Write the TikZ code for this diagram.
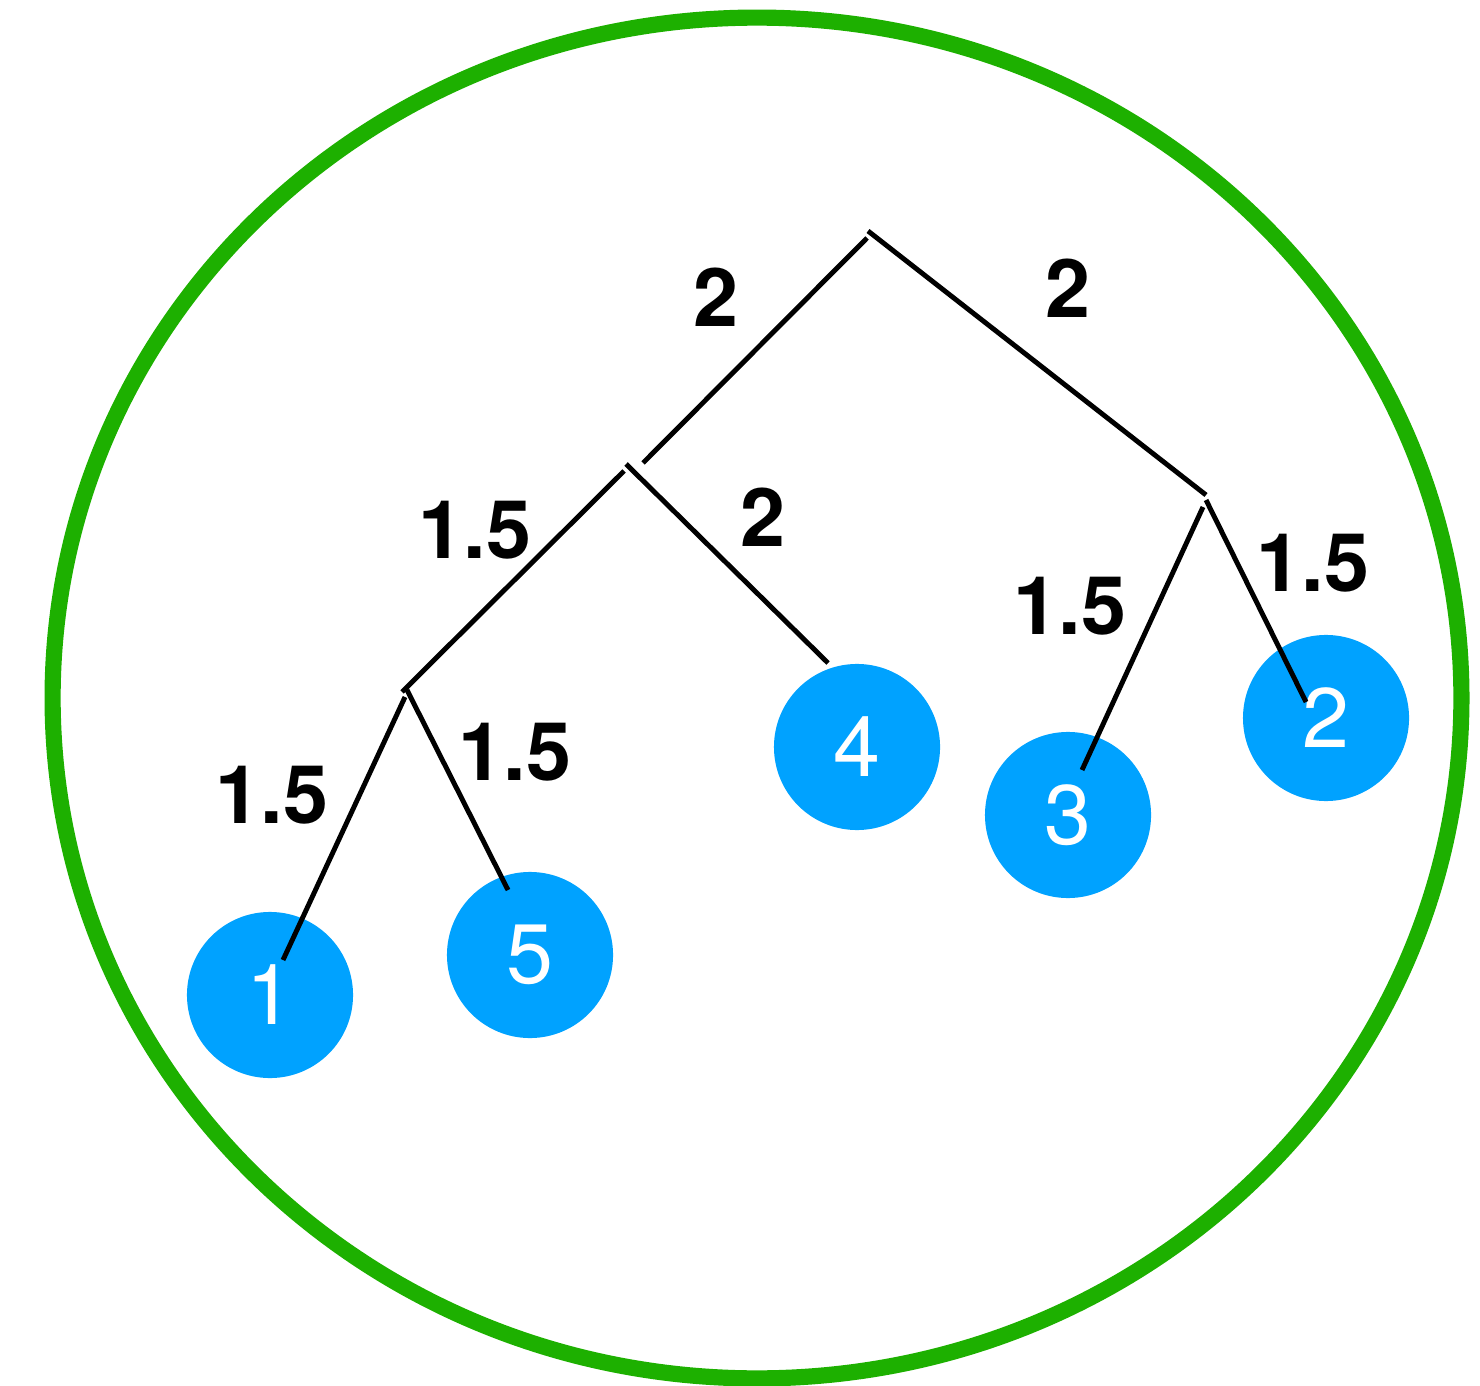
\documentclass[tikz,border=0pt]{standalone}
\usepackage{fontspec}
\setmainfont{TeX Gyre Heros}
\usepackage{xcolor}
\definecolor{ringc}{HTML}{1DB000}
\definecolor{leafc}{HTML}{00A2FF}

\begin{document}
\begin{tikzpicture}[x=0.01cm, y=-0.01cm]
  \tikzset{leaf/.style={circle, fill=leafc, minimum size=1.66cm, inner sep=0pt,
                        text=white, font=\fontsize{24}{24}\selectfont},
           branch/.style={line width=1.4pt, line cap=butt},
           wt/.style={font=\fontsize{23}{23}\selectfont\bfseries}}
  \useasboundingbox (0,0) rectangle (1480,1386);

  % outer ring
  \draw[ringc, line width=4.6pt] (757,698) ellipse [x radius=7.04cm, y radius=6.80cm];

  % leaves
  \node[leaf] (n1) at (270,995) {1};
  \node[leaf] (n5) at (530,955) {5};
  \node[leaf] (n4) at (857,747) {4};
  \node[leaf] (n3) at (1068,815) {3};
  \node[leaf] (n2) at (1326,718) {2};

  % junctions and line ends
  \coordinate (rootL) at (867,238);  \coordinate (rootR) at (868,231);
  \coordinate (aIn) at (643,463);   \coordinate (aL) at (624,471);  \coordinate (aR) at (626,464);
  \coordinate (bIn) at (402,692);   \coordinate (bL) at (405,697);  \coordinate (bR) at (407,690);
  \coordinate (cIn) at (1206,495);  \coordinate (cL) at (1203,507); \coordinate (cR) at (1206,500);
  \coordinate (tip1) at (283,960);  \coordinate (tip5) at (508,890);
  \coordinate (tip4) at (828,663);  \coordinate (tip3) at (1082,770);
  \coordinate (tip2) at (1306,702);

  % branches
  \draw[branch] (rootL) -- (aIn);
  \draw[branch] (rootR) -- (cIn);
  \draw[branch] (aL) -- (bIn);
  \draw[branch] (aR) -- (tip4);
  \draw[branch] (bL) -- (tip1);
  \draw[branch] (bR) -- (tip5);
  \draw[branch] (cL) -- (tip3);
  \draw[branch] (cR) -- (tip2);

  % weights
  \node[wt] (w1) at (716,297) {2};
  \node[wt] (w2) at (1068,288) {2};
  \node[wt] (w3) at (475,530) {1.5};
  \node[wt] (w4) at (763,517) {2};
  \node[wt] (w5) at (1070,606) {1.5};
  \node[wt] (w6) at (1313,563) {1.5};
  \node[wt] (w7) at (272,795) {1.5};
  \node[wt] (w8) at (515,752) {1.5};
\end{tikzpicture}
\end{document}
